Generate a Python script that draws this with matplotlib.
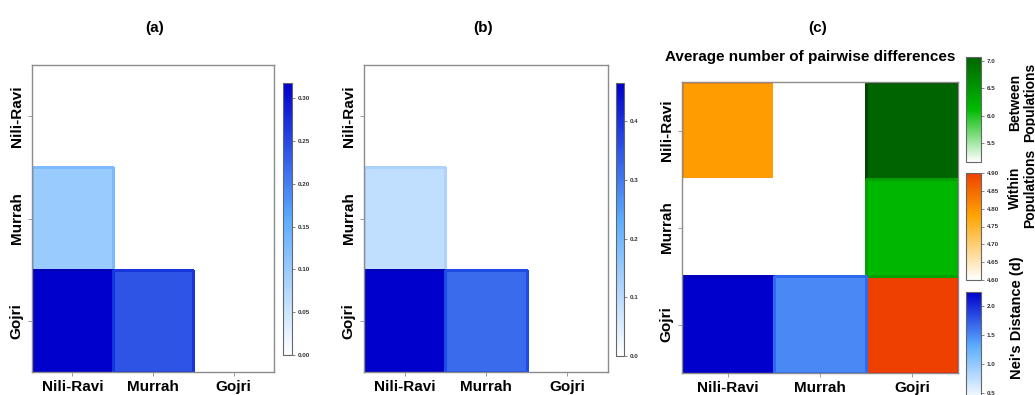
import numpy as np
import matplotlib
matplotlib.use("Agg")
import matplotlib.pyplot as plt
from matplotlib.colors import LinearSegmentedColormap, Normalize

plt.rcParams['font.family'] = ['Liberation Sans', 'DejaVu Sans']
plt.rcParams['font.weight'] = 'bold'

# ---------------- data ----------------
pops = ['Nili-Ravi', 'Murrah', 'Gojri']
nan = np.nan
# panel (a): lower triangle (row, col)
a_values = [[nan, nan, nan],
            [0.10, nan, nan],
            [0.318, 0.24, nan]]
a_ticks = [0.00, 0.05, 0.10, 0.15, 0.20, 0.25, 0.30]
# panel (b)
b_values = [[nan, nan, nan],
            [0.09, nan, nan],
            [0.465, 0.32, nan]]
b_ticks = [0.0, 0.1, 0.2, 0.3, 0.4]
# panel (c)
within_values = [4.79, 4.60, 4.90]              # diagonal
between_values = {(0, 1): 5.15, (0, 2): 7.07, (1, 2): 6.15}  # upper triangle
nei_values = {(1, 0): 0.38, (2, 0): 2.24, (2, 1): 1.50}       # lower triangle
between_ticks = [5.5, 6.0, 6.5, 7.0]
within_ticks = [4.60, 4.65, 4.70, 4.75, 4.80, 4.85, 4.90]
nei_ticks = [0.5, 1.0, 1.5, 2.0]

# ---------------- figure ----------------
W, H = 1035, 395
fig = plt.figure(figsize=(W / 100, H / 100), dpi=100)


def rect(x0, y0, x1, y1):
    return [x0 / W, 1 - y1 / H, (x1 - x0) / W, (y1 - y0) / H]


blue_cmap = LinearSegmentedColormap.from_list('blues', ['#FFFFFF', '#5CACFF', '#0000CD'])
green_cmap = LinearSegmentedColormap.from_list('greens', [(0, '#FFFFFF'), (0.5, '#00BB00'), (1, '#006400')])
orange_cmap = LinearSegmentedColormap.from_list('oranges', [(0, '#FFFFFF'), (0.6, '#FFA500'), (1, '#EE4000')])

frame_col = '#8C8C8C'


def draw_mesh(ax, M, cmap, vmin, vmax):
    A = np.array(M, dtype=float)
    Mm = np.ma.masked_invalid(A)
    mesh = ax.pcolormesh(np.arange(4), np.arange(4), Mm, cmap=cmap, vmin=vmin, vmax=vmax,
                         linewidth=1.0)
    norm = Normalize(vmin, vmax)
    ec = []
    for v in A.ravel():
        if np.isnan(v):
            ec.append((0, 0, 0, 0))
        else:
            r, g, b, a = cmap(norm(v))
            ec.append((r ** 1.4, g ** 1.4, b ** 1.4, 1))
    mesh.set_edgecolor(ec)
    return mesh


def style_heat_axes(ax):
    ax.set_xlim(0, 3)
    ax.set_ylim(3, 0)
    ax.set_xticks(np.arange(3) + 0.5)
    ax.set_yticks(np.arange(3) + 0.5)
    ax.set_xticklabels(pops, fontsize=11, fontweight='bold')
    ax.set_yticklabels(pops, fontsize=11, fontweight='bold', rotation=90, va='center')
    ax.tick_params(length=3, color=frame_col, width=0.6, pad=3)
    for s in ax.spines.values():
        s.set_color(frame_col)
        s.set_linewidth(1.0)


def style_cbar(cb, ticks, fmt, fs=4.5):
    cb.set_ticks(ticks)
    cb.set_ticklabels([fmt.format(t) for t in ticks])
    cb.ax.tick_params(length=2, width=0.5, color='#555555', labelsize=fs, pad=2,
                      labelcolor='#333333')
    cb.outline.set_edgecolor('#666666')
    cb.outline.set_linewidth(0.8)


# panel a
ax_a = fig.add_axes(rect(32, 65, 274, 372))
vals = np.array(a_values, dtype=float)
m_a = draw_mesh(ax_a, a_values, blue_cmap, 0, np.nanmax(vals))
style_heat_axes(ax_a)
cax_a = fig.add_axes(rect(283, 83, 292, 355))
cb_a = fig.colorbar(m_a, cax=cax_a)
style_cbar(cb_a, a_ticks, '{:.2f}')

# panel b
ax_b = fig.add_axes(rect(364, 65, 608, 372))
vals = np.array(b_values, dtype=float)
m_b = draw_mesh(ax_b, b_values, blue_cmap, 0, np.nanmax(vals))
style_heat_axes(ax_b)
cax_b = fig.add_axes(rect(616, 83, 624, 356))
cb_b = fig.colorbar(m_b, cax=cax_b)
style_cbar(cb_b, b_ticks, '{:.1f}')

# panel c
ax_c = fig.add_axes(rect(682, 82, 958, 373))
Wm = np.full((3, 3), nan)
for i, v in enumerate(within_values):
    Wm[i, i] = v
Bm = np.full((3, 3), nan)
for (i, j), v in between_values.items():
    Bm[i, j] = v
Nm = np.full((3, 3), nan)
for (i, j), v in nei_values.items():
    Nm[i, j] = v
m_w = draw_mesh(ax_c, Wm, orange_cmap, np.nanmin(Wm), np.nanmax(Wm))
m_bt = draw_mesh(ax_c, Bm, green_cmap, np.nanmin(Bm), np.nanmax(Bm))
m_n = draw_mesh(ax_c, Nm, blue_cmap, np.nanmin(Nm), np.nanmax(Nm))
style_heat_axes(ax_c)

cax_bt = fig.add_axes(rect(966, 57, 981, 162))
cb_bt = fig.colorbar(m_bt, cax=cax_bt)
style_cbar(cb_bt, between_ticks, '{:.1f}')
cax_w = fig.add_axes(rect(966, 173, 981, 280))
cb_w = fig.colorbar(m_w, cax=cax_w)
style_cbar(cb_w, within_ticks, '{:.2f}')
cax_n = fig.add_axes(rect(966, 292, 981, 400))
cb_n = fig.colorbar(m_n, cax=cax_n)
style_cbar(cb_n, nei_ticks, '{:.1f}')

fig.text(1023 / W, 1 - 102 / H, 'Between\nPopulations', rotation=90, ha='center', va='center',
         fontsize=10, fontweight='bold', multialignment='center', linespacing=1.1)
fig.text(1023 / W, 1 - 188 / H, 'Within\nPopulations', rotation=90, ha='center', va='center',
         fontsize=10, fontweight='bold', multialignment='center', linespacing=1.1)
fig.text(1017 / W, 1 - 318 / H, "Nei's Distance (d)", rotation=90, ha='center', va='center',
         fontsize=10.5, fontweight='bold')

# titles
for x, t in [(155, '(a)'), (483, '(b)'), (818, '(c)')]:
    fig.text(x / W, 1 - 28 / H, t, ha='center', va='center', fontsize=11, fontweight='bold')
fig.text(810 / W, 1 - 57 / H, 'Average number of pairwise differences', ha='center', va='center',
         fontsize=11, fontweight='bold')

fig.savefig('out.png', dpi=100)
